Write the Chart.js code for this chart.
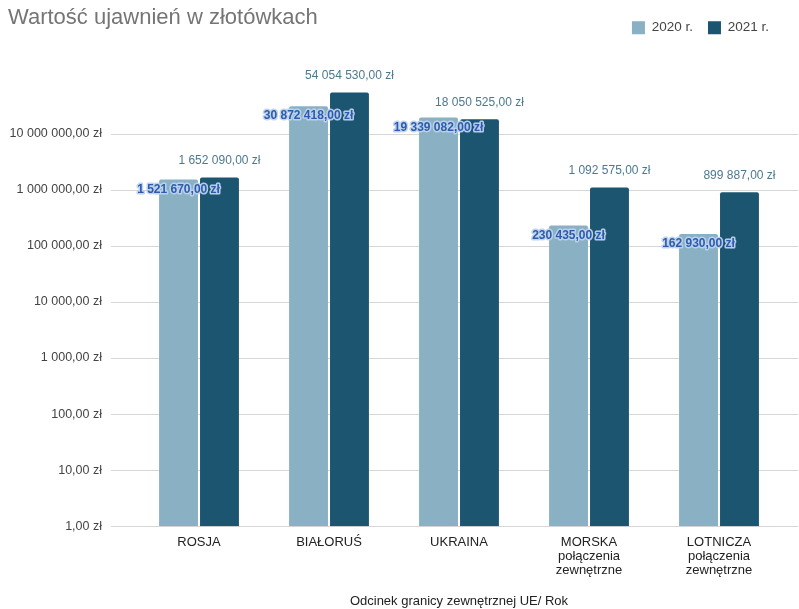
<!DOCTYPE html>
<html lang="pl">
<head>
<meta charset="utf-8">
<title>Wartość ujawnień w złotówkach</title>
<script src="https://cdn.jsdelivr.net/npm/chart.js@4/dist/chart.umd.min.js"></script>
<style>
    body { margin: 0; background: #fff; }
    #wrap { position: relative; width: 799px; height: 609px; }
    #title {
        position: absolute; left: 8px; top: 4px;
        font: 22px "Liberation Sans", Arial, sans-serif; color: #757575;
    }
</style>
</head>
<body>
<div id="wrap">
    <canvas id="chart"></canvas>
    <div id="title">Wartość ujawnień w złotówkach</div>
</div>
<script>
const categories = [
    ['ROSJA'],
    ['BIAŁORUŚ'],
    ['UKRAINA'],
    ['MORSKA', 'połączenia', 'zewnętrzne'],
    ['LOTNICZA', 'połączenia', 'zewnętrzne']
];
const values2020 = [1521670, 30872418, 19339082, 230435, 162930];
const values2021 = [1652090, 54054530, 18050525, 1092575, 899887];
const yTicks = [1, 10, 100, 1000, 10000, 100000, 1000000, 10000000];

const FONT = '"Liberation Sans", Arial, sans-serif';

// 1234567.5 -> "1 234 567,50 zł"
function formatZl(v) {
    const parts = v.toFixed(2).split('.');
    const intPart = parts[0].replace(/\B(?=(\d{3})+(?!\d))/g, ' ');
    return `${intPart},${parts[1]} zł`;
}

// Grid lines run a bit wider than the plot area, like the original
const gridPlugin = {
    id: 'wideGrid',
    beforeDatasetsDraw(chart) {
        const ctx = chart.ctx;
        const y = chart.scales.y;
        ctx.save();
        ctx.strokeStyle = '#d6d6d6';
        ctx.lineWidth = 1;
        y.ticks.forEach(t => {
            const py = Math.round(y.getPixelForValue(t.value)) + 0.5;
            ctx.beginPath();
            ctx.moveTo(111, py);
            ctx.lineTo(798, py);
            ctx.stroke();
        });
        ctx.restore();
    }
};

const labelPlugin = {
    id: 'barLabels',
    afterDatasetsDraw(chart) {
        const ctx = chart.ctx;
        ctx.save();
        ctx.textAlign = 'center';
        ctx.textBaseline = 'middle';

        // 2021: plain label above the bar
        chart.getDatasetMeta(1).data.forEach((bar, i) => {
            ctx.font = `12px ${FONT}`;
            ctx.fillStyle = '#4d7890';
            ctx.fillText(formatZl(values2021[i]), bar.x, bar.y - 17);
        });

        // 2020: bold blue label with halo, just inside the bar top
        chart.getDatasetMeta(0).data.forEach((bar, i) => {
            const text = formatZl(values2020[i]);
            ctx.font = `bold 12px ${FONT}`;
            ctx.lineJoin = 'round';
            ctx.lineWidth = 3;
            ctx.strokeStyle = 'rgba(190, 210, 235, 0.95)';
            ctx.strokeText(text, bar.x, bar.y + 10);
            ctx.fillStyle = '#2c5cb0';
            ctx.fillText(text, bar.x, bar.y + 10);
        });
        ctx.restore();
    }
};

const legendSpace = {
    id: 'legendSpace',
    beforeInit(chart) {
        const fit = chart.legend.fit;
        chart.legend.fit = function () {
            fit.bind(chart.legend)();
            this.height += 33;
        };
    }
};

new Chart(document.getElementById('chart'), {
    type: 'bar',
    data: {
        labels: categories,
        datasets: [
            {
                label: '2020 r.',
                data: values2020,
                backgroundColor: '#89b1c3',
                borderRadius: 2,
                categoryPercentage: 0.63,
                barPercentage: 0.95
            },
            {
                label: '2021 r.',
                data: values2021,
                backgroundColor: '#1b5570',
                borderRadius: 2,
                categoryPercentage: 0.63,
                barPercentage: 0.95
            }
        ]
    },
    options: {
        responsive: true,
        maintainAspectRatio: false,
        animation: false,
        layout: { padding: { top: 6, right: 15, bottom: 0, left: 0 } },
        plugins: {
            legend: {
                position: 'top',
                align: 'end',
                labels: {
                    boxWidth: 13,
                    boxHeight: 13,
                    padding: 15,
                    color: '#444',
                    font: { family: FONT, size: 13.5 }
                }
            },
            tooltip: { enabled: false }
        },
        scales: {
            x: {
                grid: { display: false, drawTicks: false, tickLength: 0 },
                border: { display: false },
                ticks: {
                    color: '#222',
                    padding: 9,
                    maxRotation: 0,
                    font: { family: FONT, size: 13, lineHeight: 1.08 }
                },
                title: {
                    display: true,
                    text: 'Odcinek granicy zewnętrznej UE/ Rok',
                    color: '#222',
                    padding: { top: 7, bottom: 0 },
                    font: { family: FONT, size: 13 }
                }
            },
            y: {
                type: 'logarithmic',
                min: 1,
                max: 100000000,
                grid: { display: false, drawTicks: false, tickLength: 0 },
                border: { display: false },
                afterBuildTicks(scale) {
                    scale.ticks = yTicks.map(v => ({ value: v }));
                },
                afterFit(scale) {
                    scale.width = 134;
                },
                ticks: {
                    color: '#444',
                    padding: 32,
                    font: { family: FONT, size: 12.5 },
                    callback: v => formatZl(v)
                }
            }
        }
    },
    plugins: [gridPlugin, labelPlugin, legendSpace]
});
</script>
</body>
</html>
